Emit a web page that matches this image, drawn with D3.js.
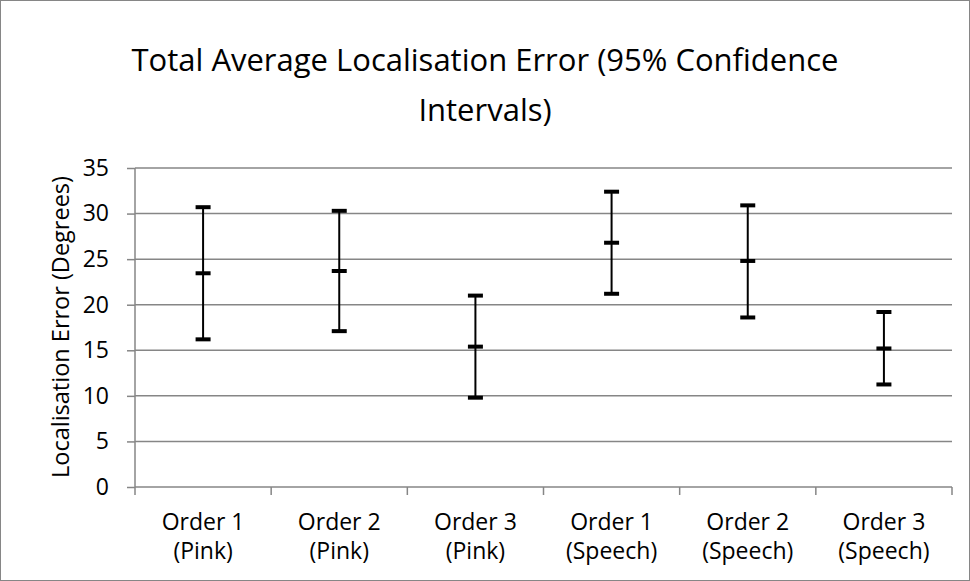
<!DOCTYPE html>
<html>
<head>
<meta charset="utf-8">
<script src="https://cdn.jsdelivr.net/npm/d3@7"></script>
<style>
  body { margin: 0; background: #fff; }
  text { font-family: "Open Sans", "Noto Sans", sans-serif; fill: #000; }
</style>
</head>
<body>
<div id="chart"></div>
<script>
// data
var categories = ["Order 1|(Pink)", "Order 2|(Pink)", "Order 3|(Pink)", "Order 1|(Speech)", "Order 2|(Speech)", "Order 3|(Speech)"];
var upper = [30.7, 30.3, 21.0, 32.4, 30.9, 19.2];
var means = [23.45, 23.7, 15.4, 26.8, 24.8, 15.2];
var lower = [16.2, 17.1, 9.8, 21.2, 18.6, 11.25];
var yTicks = [0, 5, 10, 15, 20, 25, 30, 35];

var width = 970, height = 581;
var margin = { left: 135, right: 18, top: 168, bottom: 94 };

var svg = d3.select("#chart")
    .append("svg")
    .attr("width", width)
    .attr("height", height);

// chart border
svg.append("rect")
    .attr("x", 0.5).attr("y", 0.5)
    .attr("width", width - 1).attr("height", height - 1)
    .attr("fill", "#fff")
    .attr("stroke", "#868686");

var x = d3.scaleBand()
    .domain(categories)
    .range([margin.left, width - margin.right]);

var y = d3.scaleLinear()
    .domain([0, 35])
    .range([height - margin.bottom, margin.top]);

// gridlines
svg.append("g")
    .selectAll("line")
    .data(yTicks.slice(1))
    .enter()
    .append("line")
    .attr("x1", margin.left)
    .attr("x2", width - margin.right)
    .attr("y1", d => y(d))
    .attr("y2", d => y(d))
    .attr("stroke", "#868686")
    .attr("stroke-width", 1.5);

// y axis
var yAxis = svg.append("g")
    .attr("transform", "translate(" + margin.left + ",0)")
    .call(d3.axisLeft(y).tickValues(yTicks).tickSize(8).tickPadding(18));
yAxis.selectAll("line, path").attr("stroke", "#868686").attr("stroke-width", 1.5);
yAxis.select(".domain").attr("d", "M0," + y(35) + "V" + y(0));
yAxis.selectAll("text").style("font-size", "23px").attr("fill", "#000");

// x axis with ticks on the category boundaries
var bounds = d3.range(categories.length + 1).map(i => margin.left + i * x.bandwidth());
var xg = svg.append("g");
xg.append("line")
    .attr("x1", margin.left).attr("x2", width - margin.right)
    .attr("y1", y(0)).attr("y2", y(0))
    .attr("stroke", "#868686").attr("stroke-width", 1.5);
xg.selectAll(".tk")
    .data(bounds)
    .enter()
    .append("line")
    .attr("class", "tk")
    .attr("x1", d => d).attr("x2", d => d)
    .attr("y1", y(0)).attr("y2", y(0) + 8)
    .attr("stroke", "#868686").attr("stroke-width", 1.5);

var labels = xg.selectAll(".lbl")
    .data(categories)
    .enter()
    .append("text")
    .attr("class", "lbl")
    .attr("text-anchor", "middle")
    .style("font-size", "23px");
labels.append("tspan")
    .attr("x", d => x(d) + x.bandwidth() / 2)
    .attr("y", y(0) + 43)
    .text(d => d.split("|")[0]);
labels.append("tspan")
    .attr("x", d => x(d) + x.bandwidth() / 2)
    .attr("y", y(0) + 72)
    .text(d => d.split("|")[1]);

// error bars
var bars = svg.append("g")
    .selectAll("g")
    .data(categories)
    .enter()
    .append("g")
    .attr("transform", d => "translate(" + (x(d) + x.bandwidth() / 2) + ",0)");

bars.append("line")
    .attr("y1", (d, i) => y(upper[i]))
    .attr("y2", (d, i) => y(lower[i]))
    .attr("stroke", "#000")
    .attr("stroke-width", 2);

[upper, means, lower].forEach(function (arr) {
    bars.append("line")
        .attr("x1", -7.5).attr("x2", 7.5)
        .attr("y1", (d, i) => y(arr[i]))
        .attr("y2", (d, i) => y(arr[i]))
        .attr("stroke", "#000")
        .attr("stroke-width", 4);
});

// axis title
svg.append("text")
    .attr("transform", "translate(69,327) rotate(-90)")
    .attr("text-anchor", "middle")
    .style("font-size", "23.5px")
    .text("Localisation Error (Degrees)");

// chart title
var title = svg.append("text")
    .attr("text-anchor", "middle")
    .style("font-size", "31px");
title.append("tspan").attr("x", 485).attr("y", 71).text("Total Average Localisation Error (95% Confidence");
title.append("tspan").attr("x", 485).attr("y", 121).text("Intervals)");
</script>
</body>
</html>
